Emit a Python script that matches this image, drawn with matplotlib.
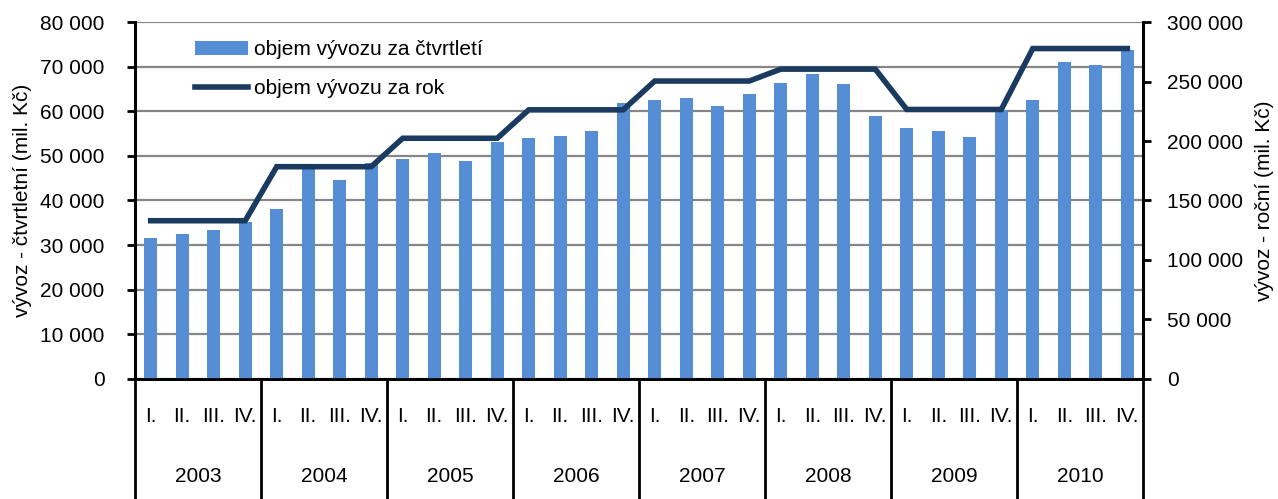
import matplotlib.pyplot as plt
from matplotlib.ticker import FuncFormatter
import matplotlib.transforms as mtransforms

plt.rcParams['font.family'] = ['Liberation Sans', 'DejaVu Sans']

years = ['2003', '2004', '2005', '2006', '2007', '2008', '2009', '2010']
quarters = ['I.', 'II.', 'III.', 'IV.']

# quarterly exports (mil. Kc), left axis
quarterly = [31600, 32500, 33500, 35200,
             38000, 47100, 44700, 48500,
             49400, 50600, 48800, 53200,
             54000, 54400, 55500, 61800,
             62600, 62900, 61200, 63800,
             66300, 68400, 66100, 59000,
             56300, 55600, 54200, 60300,
             62500, 71100, 70400, 73700]

# annual exports (mil. Kc), right axis
annual = [133000, 178400, 202300, 226200, 250400, 260400, 226500, 277700]

x = list(range(len(quarterly)))
annual_q = [a for a in annual for _ in range(4)]

fmt = FuncFormatter(lambda v, p: '{:,.0f}'.format(v).replace(',', ' '))
FS = 15

fig = plt.figure(figsize=(12.78, 4.99), dpi=100)
ax = fig.add_axes([0.1056, 0.2405, 0.7888, 0.7154])
ax2 = ax.twinx()

bars = ax.bar(x, quarterly, width=0.4, color='#558ED5', zorder=3)
line, = ax2.plot(x, annual_q, color='#1B3A5F', lw=4, zorder=4,
                 solid_joinstyle='miter')

ax.set_xlim(-0.5, len(x) - 0.5)
ax.set_ylim(0, 80000)
ax.set_yticks(range(0, 80001, 10000))
ax2.set_ylim(0, 300000)
ax2.set_yticks(range(0, 300001, 50000))
ax.yaxis.set_major_formatter(fmt)
ax2.yaxis.set_major_formatter(fmt)

ax.grid(axis='y', color='#868686', lw=1.6, zorder=0)
ax.set_axisbelow(True)
ax.set_xticks([])

for a in (ax, ax2):
    a.spines['top'].set_visible(False)
    for s in ('left', 'right', 'bottom'):
        a.spines[s].set_linewidth(2)
        a.spines[s].set_color('black')
    a.tick_params(axis='y', labelsize=FS, length=6, width=2)
ax.tick_params(axis='y', pad=16)
ax2.tick_params(axis='y', pad=11)

ax.set_ylabel('vývoz - čtvrtletní (mil. Kč)', fontsize=FS, labelpad=6)
ax2.set_ylabel('vývoz - roční (mil. Kč)', fontsize=FS, labelpad=9)

# category table below the axis
trans = mtransforms.blended_transform_factory(ax.transData, ax.transAxes)
for k in range(len(years) + 1):
    ax.plot([k * 4 - 0.5, k * 4 - 0.5], [0, -0.5], transform=trans,
            color='black', lw=2, clip_on=False)
for i in x:
    ax.text(i, -0.106, quarters[i % 4], transform=trans, ha='center',
            va='center', fontsize=FS)
for k, yr in enumerate(years):
    ax.text(k * 4 + 1.5, -0.274, yr, transform=trans, ha='center',
            va='center', fontsize=FS)

ax.legend([bars, line], ['objem vývozu za čtvrtletí', 'objem vývozu za rok'],
          loc='upper left', bbox_to_anchor=(0.045, 0.99), frameon=False,
          fontsize=FS, handlelength=2.55, labelspacing=0.95, handletextpad=0.3,
          borderpad=0.2)

fig.savefig('out.png', dpi=100)
